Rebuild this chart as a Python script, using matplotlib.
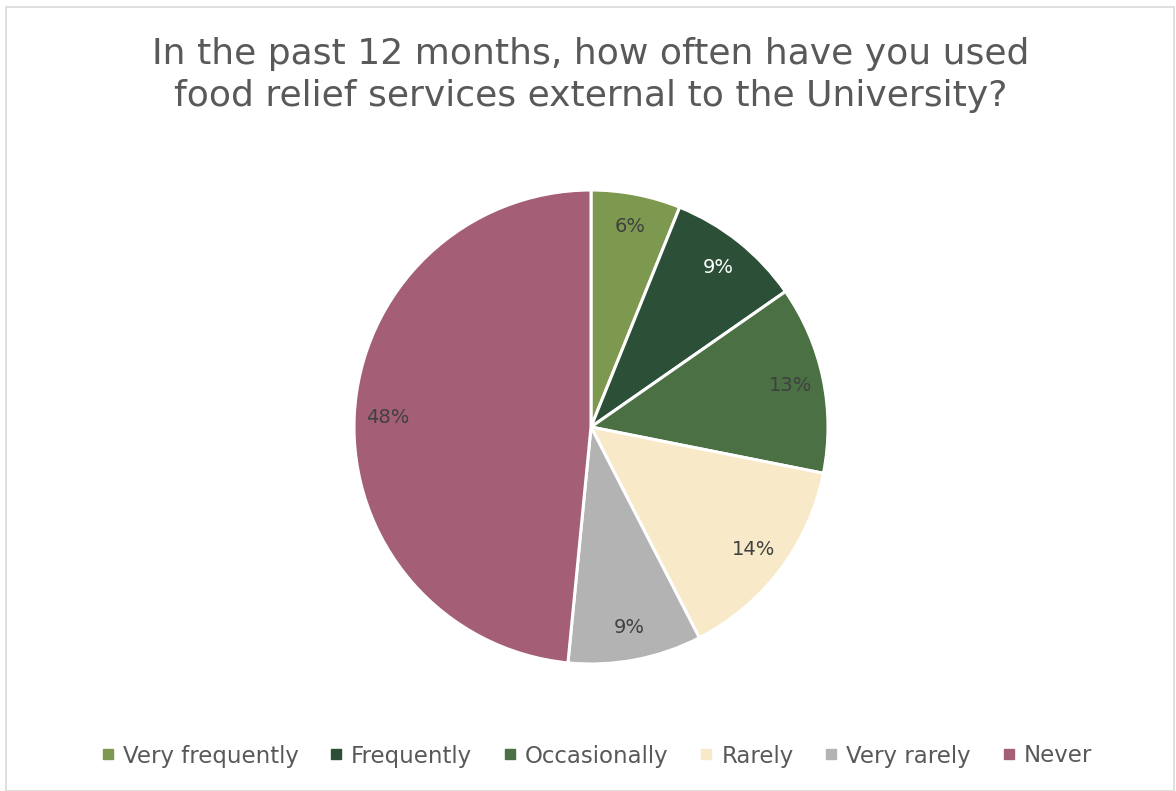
import matplotlib
matplotlib.use('Agg')
import matplotlib.pyplot as plt
from matplotlib.lines import Line2D
from matplotlib.patches import Rectangle

plt.rcParams['font.family'] = ['DejaVu Sans']

categories = ['Very frequently', 'Frequently', 'Occasionally', 'Rarely', 'Very rarely', 'Never']
values = [6.1, 9.2, 12.8, 14.3, 9.1, 48.4]
colors = ['#7d984f', '#2b4f37', '#4a7044', '#f8eac9', '#b3b3b4', '#a45f76']
label_colors = ['#404040', '#ffffff', '#404040', '#404040', '#404040', '#404040']
title = 'In the past 12 months, how often have you used\nfood relief services external to the University?'

W, H = 1176, 791
fig = plt.figure(figsize=(W / 100, H / 100), dpi=100)

# light chart border
fig.patches.append(Rectangle((5.5 / W, 0.5 / H), (1168 / W), (784 / H), transform=fig.transFigure,
                             fill=False, edgecolor='#d9d9d9', linewidth=1.2))

cx, cy, r = 591, 427, 237
ax = fig.add_axes([(cx - r) / W, (H - cy - r) / H, 2 * r / W, 2 * r / H])
wedges, texts, autotexts = ax.pie(values, colors=colors, startangle=90, counterclock=False,
                                  autopct='%.0f%%', pctdistance=0.86,
                                  wedgeprops=dict(edgecolor='white', linewidth=2.2),
                                  textprops=dict(fontsize=14))
for t, c in zip(autotexts, label_colors):
    t.set_color(c)
ax.set_xlim(-1, 1)
ax.set_ylim(-1, 1)
ax.set_aspect('equal')
ax.axis('off')

fig.text(cx / W, 1 - 75 / H, title, ha='center', va='center', fontsize=26,
         color='#595959', linespacing=1.32)

handles = [Line2D([], [], marker='s', linestyle='none', markersize=7,
                  markerfacecolor=c, markeredgecolor=c) for c in colors]
fig.legend(handles, categories, loc='center', bbox_to_anchor=(597 / W, 1 - 756 / H), ncol=6,
           frameon=False, fontsize=16.5, handlelength=0.5, handletextpad=0.4,
           columnspacing=1.4, labelcolor='#595959')

plt.savefig('out.png', dpi=100)
